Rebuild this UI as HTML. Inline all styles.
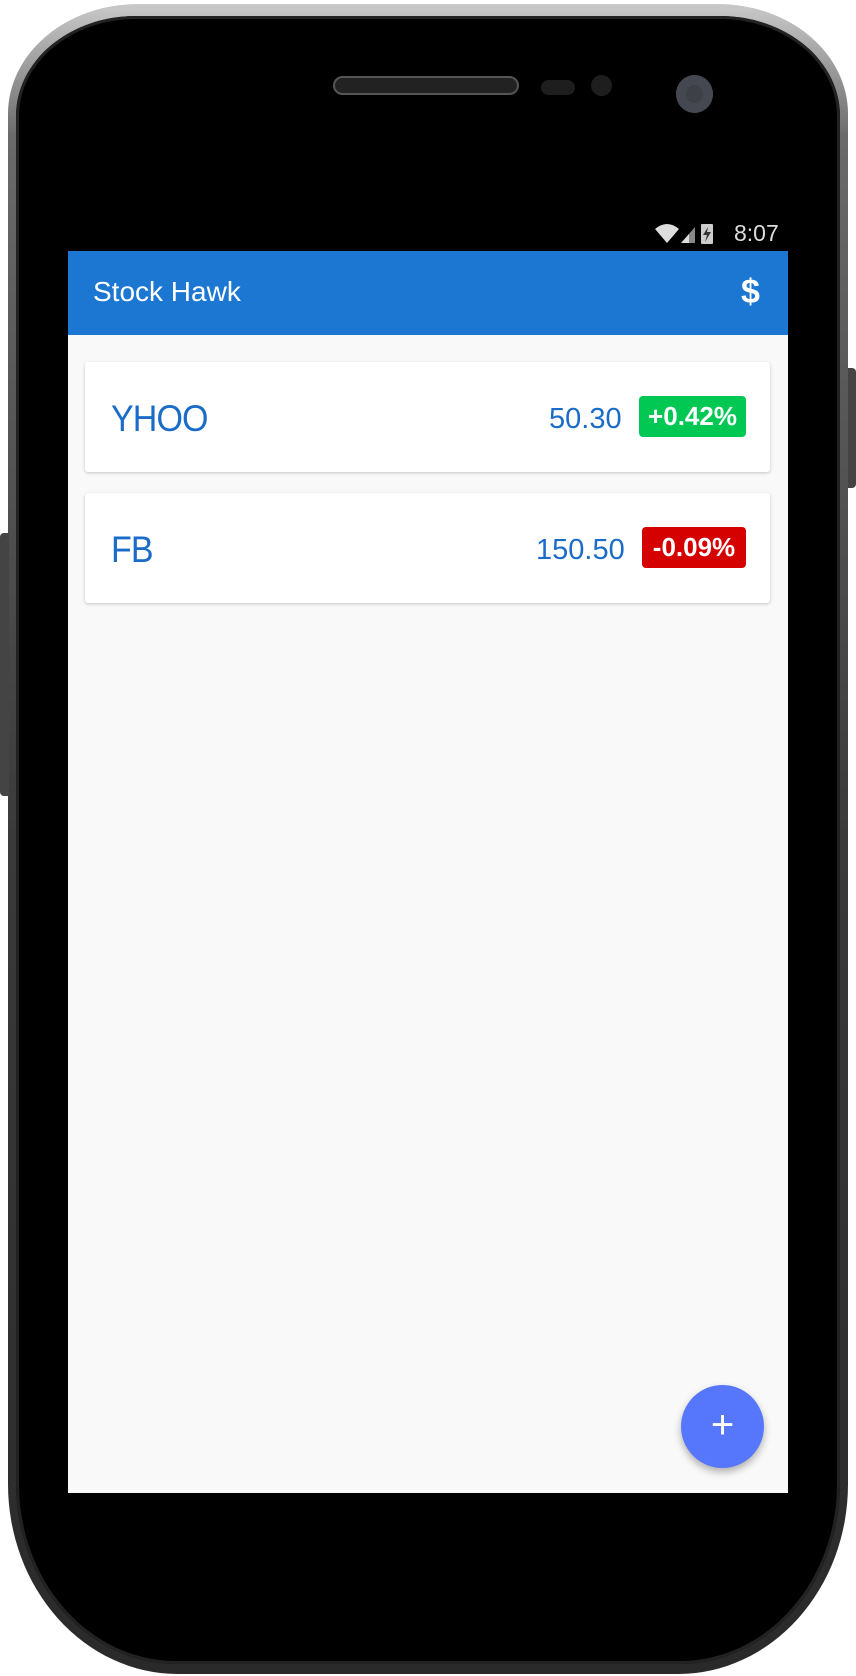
<!DOCTYPE html>
<html><head><meta charset="utf-8">
<style>
*{margin:0;padding:0;box-sizing:border-box}
body{width:856px;height:1676px;background:#fff;position:relative;overflow:hidden;font-family:"Liberation Sans",sans-serif}
.abs{position:absolute}
#phone{left:8px;top:4px;width:840px;height:1670px;border-radius:130px 130px 170px 170px / 110px 110px 190px 190px;background:linear-gradient(#c9c9c9,#6a6a6a 8%,#3a3a3a 50%,#2a2a2a);}
#bezel{left:16px;top:16px;width:824px;height:1648px;border-radius:120px 120px 160px 160px / 100px 100px 180px 180px;background:#000;box-shadow:inset 0 0 0 3px #222}
#screen{left:68px;top:213px;width:720px;height:1280px;background:#f9f9f9;overflow:hidden}
.card{position:absolute;left:17px;width:685px;height:110px;background:#fff;border-radius:3px;box-shadow:0 1px 3px rgba(0,0,0,.22)}
.sym{position:absolute;left:26px;top:36px;font-size:37px;color:#1b6cc8;font-weight:300;letter-spacing:-1px;transform:scaleX(0.92);transform-origin:left}
.price{position:absolute;font-size:29px;color:#1b6cc8;top:41px}
.badge{position:absolute;height:41px;border-radius:4px;color:#fff;font-weight:bold;font-size:26px;text-align:center;line-height:41px;top:34px}
</style></head><body>
<div class="abs" id="phone"></div>
<div class="abs" style="left:848px;top:368px;width:8px;height:120px;background:#444;border-radius:0 4px 4px 0"></div>
<div class="abs" style="left:0;top:533px;width:9px;height:263px;background:#444;border-radius:4px 0 0 4px"></div>
<div class="abs" id="bezel"></div>
<div class="abs" style="left:333px;top:76px;width:186px;height:19px;border-radius:10px;background:#222;border:2px solid #555"></div>
<div class="abs" style="left:541px;top:80px;width:34px;height:15px;border-radius:8px;background:#1e1e1e"></div>
<div class="abs" style="left:591px;top:75px;width:21px;height:21px;border-radius:50%;background:#1e1e1e"></div>
<div class="abs" style="left:676px;top:75px;width:37px;height:38px;border-radius:50%;background:#3d4046;box-shadow:inset 0 0 0 10px #454850"></div>

<div class="abs" id="screen">
  <div class="abs" style="left:0;top:0;width:720px;height:38px;background:#000">
    <svg class="abs" style="left:585px;top:8px" width="62" height="24">
      <path d="M2 8 Q14 -2 26 8 L14 22 Z" fill="#ddd"/>
      <path d="M28 22 L42 6 L42 22 Z" fill="#888"/><path d="M28 22 L36 13 L36 22 Z" fill="#ddd"/>
      <rect x="48" y="3" width="12" height="20" rx="1" fill="#ccc"/><path d="M55 6 L50 14 L54 14 L52 21 L58 11 L54 11 Z" fill="#333"/>
    </svg>
    <div class="abs" style="left:666px;top:7px;color:#ddd;font-size:23px">8:07</div>
  </div>
  <div class="abs" style="left:0;top:38px;width:720px;height:84px;background:#1c77d2">
    <div class="abs" style="left:25px;top:25px;color:#fff;font-size:28px">Stock Hawk</div>
    <div class="abs" style="left:673px;top:22px;color:#fff;font-size:34px;font-weight:bold">$</div>
  </div>
  <div class="card" style="top:149px">
    <div class="sym">YHOO</div>
    <div class="price" style="left:464px">50.30</div>
    <div class="badge" style="left:554px;width:107px;background:#00c853">+0.42%</div>
  </div>
  <div class="card" style="top:280px">
    <div class="sym">FB</div>
    <div class="price" style="left:451px">150.50</div>
    <div class="badge" style="left:557px;width:104px;background:#d50000">-0.09%</div>
  </div>
  <div class="abs" style="left:613px;top:1172px;width:83px;height:83px;border-radius:50%;background:#5677fc;box-shadow:0 4px 8px rgba(0,0,0,.3);color:#fff;font-size:40px;text-align:center;line-height:80px">+</div>
</div>
</body></html>
